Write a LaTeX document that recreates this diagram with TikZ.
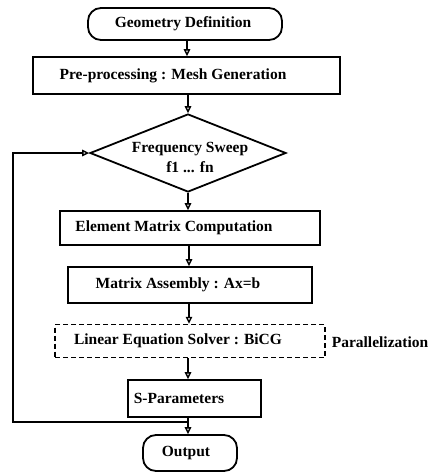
\documentclass[tikz,border=0pt]{standalone}
\usepackage{fontspec}
\setmainfont{Liberation Serif}
\usetikzlibrary{shapes.geometric,arrows.meta,calc}
\begin{document}
\begin{tikzpicture}[x=1pt,y=-1pt,
  every node/.style={font=\fontsize{15.5}{20}\selectfont\bfseries},
  box/.style={draw,line width=1.8pt,inner sep=0pt},
  dbox/.style={draw,line width=1.4pt,dash pattern=on 5pt off 3pt,inner sep=0pt},
  term/.style={draw,line width=1.8pt,rounded corners=13pt,inner sep=0pt},
  arr/.style={line width=1.4pt,-{Triangle[open,length=7pt,width=6.5pt,line width=1.4pt]}},
  lin/.style={line width=1.4pt}]
\useasboundingbox (0,0) rectangle (433,472);
% nodes
\node[term,minimum width=194pt,minimum height=32pt] (geo) at (185,24) {};
\node (geot) at (183,24) {Geometry Definition};
\node[box,minimum width=307pt,minimum height=37pt] (pre) at (186.5,75.5) {};
\node (pret) at (173,76) {Pre-processing : Mesh Generation};
\node[diamond,draw,line width=1.8pt,minimum width=196pt,minimum height=78pt,inner sep=0pt] (freq) at (188,153) {};
\node[align=center] (freqt) at (190,157) {Frequency Sweep\\f1 ... fn};
\node[box,minimum width=260pt,minimum height=34pt] (elem) at (190,228) {};
\node (elemt) at (174,228) {Element Matrix Computation};
\node[box,minimum width=244pt,minimum height=36pt] (asm) at (190,285) {};
\node (asmt) at (178,285) {Matrix Assembly : Ax=b};
\node[dbox,minimum width=270pt,minimum height=33pt] (solv) at (190,341) {};
\node (solvt) at (178,341) {Linear Equation Solver : BiCG};
\node (par) at (380,342) {Parallelization};
\node[box,minimum width=133pt,minimum height=37pt] (sp) at (194.5,398.5) {};
\node (spt) at (179,398) {S-Parameters};
\node[term,minimum width=94pt,minimum height=36pt] (out) at (190,453) {};
\node (outt) at (186,453) {Output};
\coordinate (j) at (188,422);
\coordinate (lb) at (13,422);
\coordinate (lt) at (13,153);
% connectors
\draw[arr] (geo.south -| 187,0) -- (pre.north -| 187,0);
\draw[arr] (pre.south -| 188,0) -- (freq.north);
\draw[arr] (freq.south) -- (elem.north -| freq.south);
\draw[arr] (elem.south -| 189,0) -- (asm.north -| 189,0);
\draw[arr] (asm.south -| 189,0) -- (solv.north -| 189,0);
\draw[arr] (solv.south -| 188,0) -- (sp.north -| 188,0);
\draw[lin] (sp.south -| j) -- (j);
\draw[arr] (j) -- (out.north -| j);
\draw[arr] (j) -- (lb) -- (lt) -- (freq.west);
\end{tikzpicture}
\end{document}
